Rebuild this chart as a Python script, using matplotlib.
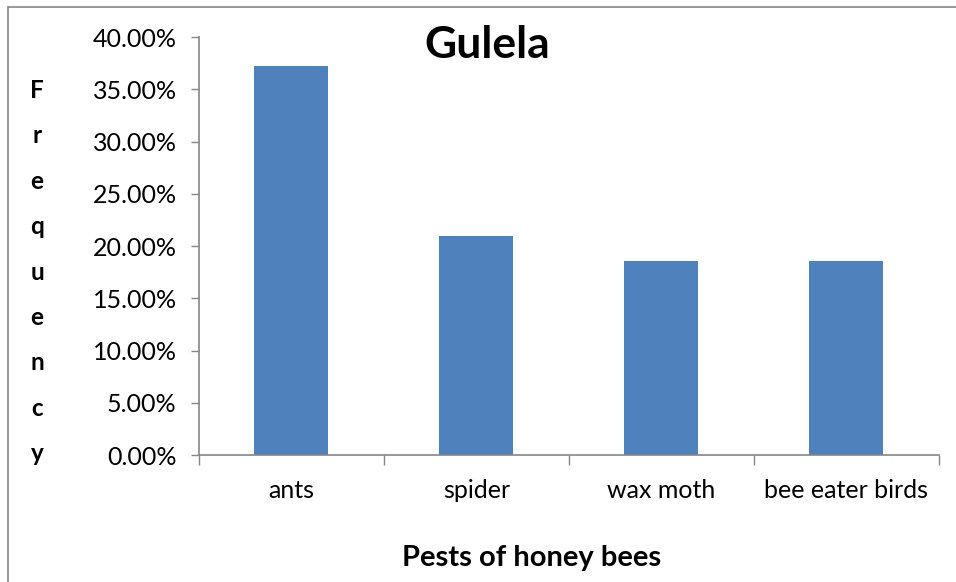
import matplotlib.pyplot as plt
from matplotlib.patches import Rectangle
from matplotlib.ticker import FuncFormatter
import numpy as np

plt.rcParams['font.family'] = ['Lato', 'DejaVu Sans']

pests = ["ants", "spider", "wax moth", "bee eater birds"]
frequency = [37.21, 20.93, 18.60, 18.60]
yticks = [0, 5, 10, 15, 20, 25, 30, 35, 40]

fig = plt.figure(figsize=(9.56, 5.82), dpi=100)
ax = fig.add_axes([0.208, 0.218, 0.774, 0.718])

x = np.arange(len(pests))
ax.bar(x, frequency, width=0.4, color="#4F81BD")

ax.set_xlim(-0.5, len(pests) - 0.5)
ax.set_ylim(0, 40)
ax.set_yticks(yticks)
ax.yaxis.set_major_formatter(FuncFormatter(lambda v, p: f"{v:.2f}%"))

# category labels centred on bars, tick marks between categories
ax.set_xticks(x)
ax.set_xticklabels(pests)
ax.set_xticks(np.arange(len(pests) + 1) - 0.5, minor=True)
ax.tick_params(axis="x", which="major", length=0, pad=17, labelsize=18)
ax.tick_params(axis="x", which="minor", length=7, color="#868686", width=1)
ax.tick_params(axis="y", length=6, color="#868686", width=1, labelsize=18, pad=10)

for s in ["top", "right"]:
    ax.spines[s].set_visible(False)
for s in ["left", "bottom"]:
    ax.spines[s].set_color("#868686")
    ax.spines[s].set_linewidth(1.2)

ax.set_title("Gulela", fontsize=32, fontweight="bold", x=0.39, y=0.93)
ax.set_xlabel("Pests of honey bees", fontsize=21, fontweight="bold", labelpad=31, x=0.449)

fig.text(37 / 956, 1 - 272 / 582, "F\nr\ne\nq\nu\ne\nn\nc\ny", ha="center", va="center",
         fontsize=17.5, fontweight="bold", linespacing=2.18)

# chart-area frame (right and bottom edges fall outside the image)
fig.patches.append(Rectangle((8 / 956, -0.05), 1.1, 1 - 7 / 582 + 0.05, transform=fig.transFigure,
                             fill=False, edgecolor="#868686", linewidth=1.2))

fig.savefig("out.png", dpi=100)
